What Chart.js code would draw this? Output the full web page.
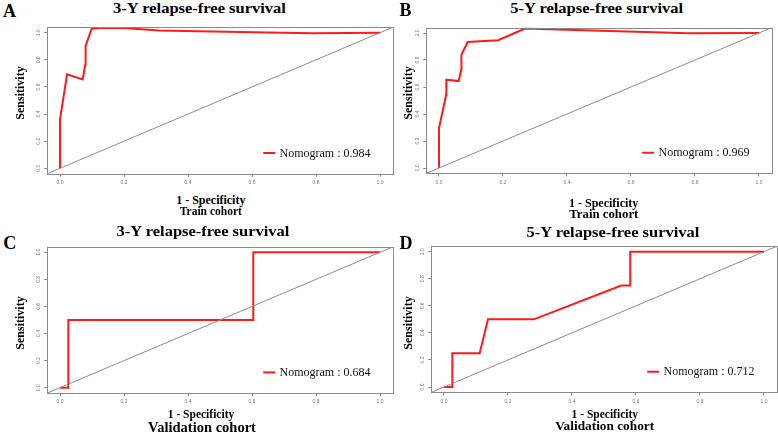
<!DOCTYPE html>
<html><head><meta charset="utf-8">
<script src="https://cdn.jsdelivr.net/npm/chart.js@4.4.1/dist/chart.umd.min.js"></script>
<style>
html,body{margin:0;padding:0;background:#fff;}
#wrap{position:relative;width:778px;height:433px;overflow:hidden;background:#fff;}
canvas{position:absolute;}
.t{position:absolute;font-family:"Liberation Serif","Times New Roman",serif;font-weight:bold;color:#000;white-space:nowrap;line-height:1;z-index:5;}
</style></head><body><div id="wrap"></div>
<script>
// ---------- data ----------
const tickValues = [0, 0.2, 0.4, 0.6, 0.8, 1.0];
const tickLabels = ["0.0", "0.2", "0.4", "0.6", "0.8", "1.0"];

const titles = ["3-Y relapse-free survival", "5-Y relapse-free survival", "3-Y relapse-free survival", "5-Y relapse-free survival"];
const panelLetters = ["A", "B", "C", "D"];
const cohorts = ["Train cohort", "Train cohort", "Validation cohort", "Validation cohort"];
const xAxisLabel = "1 - Specificity";
const yAxisLabel = "Sensitivity";
const seriesName = "Nomogram";
const aucValues = [0.984, 0.969, 0.684, 0.712];

const fprA = [0, 0, 0.022, 0.071, 0.079, 0.080, 0.099, 0.130, 0.200, 0.310, 0.604, 0.790, 1.0];
const tprA = [0, 0.361, 0.693, 0.656, 0.764, 0.902, 1.030, 1.037, 1.034, 1.017, 1.003, 0.996, 1.0];

const fprB = [0, 0, 0.022, 0.023, 0.0615, 0.069, 0.070, 0.0896, 0.185, 0.269, 0.424, 0.674, 0.778, 1.0];
const tprB = [0, 0.296, 0.538, 0.654, 0.644, 0.724, 0.839, 0.933, 0.946, 1.033, 1.022, 1.005, 0.998, 1.0];

const fprC = [0, 0.026, 0.026, 0.604, 0.604, 1.0];
const tprC = [0, 0, 0.5, 0.5, 1.0, 1.0];

const fprD = [0, 0.026, 0.026, 0.1115, 0.1375, 0.281, 0.554, 0.582, 0.582, 1.0];
const tprD = [0, 0, 0.25, 0.25, 0.5, 0.5, 0.75, 0.75, 1.0, 1.0];

const fprs = [fprA, fprB, fprC, fprD];
const tprs = [tprA, tprB, tprC, tprD];

// ---------- layout (pixel geometry of each panel: pixel of data 0 and 1) ----------
const axisMin = -0.04, axisMax = 1.04;
const panels = [
  {x0: 60,  x1: 380, y0: 168.3, y1: 32.7},
  {x0: 439, x1: 759, y0: 168.0, y1: 33.0},
  {x0: 60,  x1: 380, y0: 387.7, y1: 252.3},
  {x0: 444, x1: 764, y0: 387.0, y1: 251.7}
];
const legendPos = {x: 0.635, y: 0.113, len: 0.037, gap: 0.014};
const serifFont = '"Liberation Serif", "Times New Roman", serif';

const textItems = [
  {s: titles[0], x: 199.5, y: 8.5, f: 16.5, sy: 0.86},
  {s: titles[1], x: 596.7, y: 8.5, f: 16.5, sy: 0.86},
  {s: titles[2], x: 203, y: 231.7, f: 16.5, sy: 0.86},
  {s: titles[3], x: 613, y: 233.3, f: 16.5, sy: 0.86},
  {s: panelLetters[0], x: 9.5, y: 11, f: 18},
  {s: panelLetters[1], x: 405.5, y: 10, f: 18},
  {s: panelLetters[2], x: 9.7, y: 242.5, f: 18},
  {s: panelLetters[3], x: 406, y: 242.5, f: 18},
  {s: xAxisLabel, x: 210.8, y: 200, f: 12},
  {s: cohorts[0], x: 210.8, y: 211.7, f: 11.5},
  {s: xAxisLabel, x: 603.7, y: 202.7, f: 12},
  {s: cohorts[1], x: 603.8, y: 214.3, f: 12.8},
  {s: xAxisLabel, x: 201, y: 415, f: 11.5},
  {s: cohorts[2], x: 202, y: 426.7, f: 14.5},
  {s: xAxisLabel, x: 604.8, y: 415, f: 11.5},
  {s: cohorts[3], x: 604.7, y: 426, f: 13.3},
  {s: yAxisLabel, x: 20, y: 93.3, f: 12, rot: true},
  {s: yAxisLabel, x: 408, y: 92.8, f: 12, rot: true},
  {s: yAxisLabel, x: 20, y: 322.5, f: 12, rot: true},
  {s: yAxisLabel, x: 408, y: 322.5, f: 12, rot: true}
];

const wrap = document.getElementById('wrap');
textItems.forEach(t => {
  const d = document.createElement('div');
  d.className = 't';
  d.textContent = t.s;
  d.style.left = t.x + 'px';
  d.style.top = t.y + 'px';
  d.style.fontSize = t.f + 'px';
  let tr = 'translate(-50%,-50%)';
  if (t.rot) tr += ' rotate(-90deg)';
  if (t.sy) tr += ' scaleY(' + t.sy + ')';
  d.style.transform = tr;
  wrap.appendChild(d);
});

const framePlugin = {
  id: 'frame',
  afterDatasetsDraw(chart) {
    const a = chart.chartArea, ctx = chart.ctx;
    ctx.save();
    ctx.strokeStyle = '#8a8a8a';
    ctx.lineWidth = 1;
    ctx.strokeRect(Math.round(a.left) + 0.5, Math.round(a.top) + 0.5,
      Math.round(a.right) - Math.round(a.left), Math.round(a.bottom) - Math.round(a.top));
    const xs = chart.scales.x, ys = chart.scales.y;
    const idx = chart.options.plugins.frame.idx;
    const lx0 = xs.getPixelForValue(legendPos.x);
    const lx1 = xs.getPixelForValue(legendPos.x + legendPos.len);
    const ly = ys.getPixelForValue(legendPos.y);
    ctx.strokeStyle = '#ff1a1a';
    ctx.lineWidth = 2;
    ctx.beginPath(); ctx.moveTo(lx0, ly); ctx.lineTo(lx1, ly); ctx.stroke();
    ctx.fillStyle = '#111';
    ctx.font = 'normal 12px ' + serifFont;
    ctx.textBaseline = 'middle';
    ctx.textAlign = 'left';
    ctx.fillText(seriesName + ' : ' + aucValues[idx].toFixed(3),
      xs.getPixelForValue(legendPos.x + legendPos.len + legendPos.gap), ly + 0.5);
    ctx.restore();
  }
};

function build() {
  panels.forEach((p, i) => {
    const sx = (p.x1 - p.x0), sy = (p.y0 - p.y1);
    const fL = p.x0 + axisMin * sx, fR = p.x0 + axisMax * sx;
    const fB = p.y0 - axisMin * sy, fT = p.y0 - axisMax * sy;
    const cL = Math.floor(fL - 22), cT = Math.floor(fT - 8);
    const cR = Math.ceil(fR + 6), cB = Math.ceil(fB + 16);
    const padTop = fT - cT, padRight = cR - fR, yW = fL - cL, xH = cB - fB;
    const cv = document.createElement('canvas');
    cv.width = cR - cL; cv.height = cB - cT;
    cv.style.left = cL + 'px'; cv.style.top = cT + 'px';
    cv.style.width = (cR - cL) + 'px'; cv.style.height = (cB - cT) + 'px';
    wrap.appendChild(cv);

    const curve = fprs[i].map((v, k) => ({x: v, y: tprs[i][k]}));
    const diag = [{x: axisMin, y: axisMin}, {x: axisMax, y: axisMax}];
    const tickFont = {family: '"Liberation Sans", Arial, sans-serif', size: 5};

    new Chart(cv, {
      type: 'line',
      data: {
        datasets: [
          {data: diag, borderColor: '#8c8c8c', borderWidth: 1, pointRadius: 0, tension: 0, fill: false},
          {data: curve, borderColor: '#ff1a1a', borderWidth: 2, pointRadius: 0, tension: 0, fill: false}
        ]
      },
      options: {
        responsive: false,
        animation: false,
        devicePixelRatio: 1,
        events: [],
        layout: {padding: {top: padTop, right: padRight, left: 0, bottom: 0}},
        plugins: {legend: {display: false}, tooltip: {enabled: false}, title: {display: false}, frame: {idx: i}},
        scales: {
          x: {
            type: 'linear', min: axisMin, max: axisMax,
            afterBuildTicks: s => { s.ticks = tickValues.map(v => ({value: v})); },
            afterFit: s => { s.height = xH; },
            ticks: {font: tickFont, color: '#777', padding: 3, maxRotation: 0, minRotation: 0,
                    callback: (v, k) => tickLabels[k]},
            grid: {display: true, drawOnChartArea: false, drawTicks: true, tickLength: 3, color: '#8a8a8a'},
            border: {display: false}
          },
          y: {
            type: 'linear', min: axisMin, max: axisMax,
            afterBuildTicks: s => { s.ticks = tickValues.map(v => ({value: v})); },
            afterFit: s => { s.width = yW; },
            ticks: {font: tickFont, color: '#777', padding: 2, minRotation: 90, maxRotation: 90, crossAlign: 'center',
                    callback: (v, k) => tickLabels[k]},
            grid: {display: true, drawOnChartArea: false, drawTicks: true, tickLength: 3, color: '#8a8a8a'},
            border: {display: false}
          }
        }
      },
      plugins: [framePlugin]
    });
  });
}

if (document.fonts && document.fonts.load) {
  Promise.all([
    document.fonts.load('12px "Liberation Serif"'),
    document.fonts.load('5px "Liberation Sans"')
  ]).then(build, build);
} else {
  build();
}
</script></body></html>
